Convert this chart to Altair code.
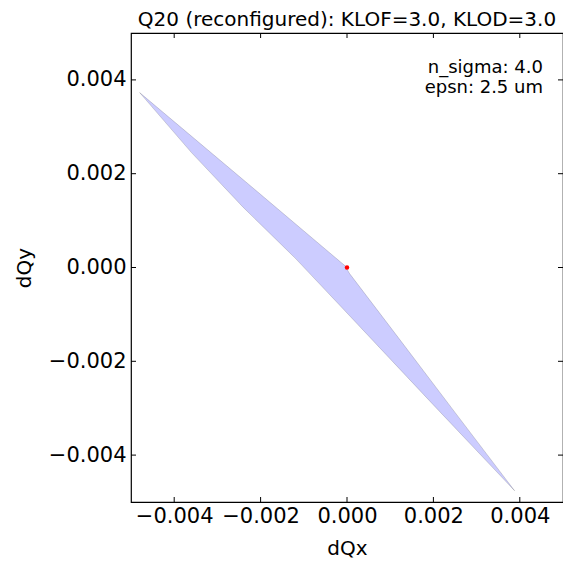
import altair as alt
import pandas as pd

chart_title = "Q20 (reconfigured): KLOF=3.0, KLOD=3.0"

# tune footprint polygon vertices, in drawing order
poly_dqx = [-0.00480, -0.00240, -0.00005, 0.00006, 0.00120, 0.00250, 0.00388,
            0.00200, 0.00000, -0.00120, -0.00240, -0.00360, -0.00480]
poly_dqy = [0.00373, 0.00187, 0.00004, -0.00013, -0.00151, -0.00309, -0.00476,
            -0.00293, -0.00097, 0.00020, 0.00128, 0.00245, 0.00373]

origin_dqx = [0.0]
origin_dqy = [0.0]

tick_values = [-0.004, -0.002, 0.0, 0.002, 0.004]
axis_domain = [-0.005, 0.005]
annotation_lines = ["n_sigma: 4.0", "epsn: 2.5 um"]

FONT = "DejaVu Sans"
W, H = 432, 469
TL = 5

poly = pd.DataFrame({"i": list(range(len(poly_dqx))), "dQx": poly_dqx, "dQy": poly_dqy})
origin = pd.DataFrame({"dQx": origin_dqx, "dQy": origin_dqy})
ticks = pd.DataFrame({"v": tick_values})

xs = alt.Scale(domain=axis_domain, nice=False, zero=False)
ys = alt.Scale(domain=axis_domain, nice=False, zero=False)

x_axis = alt.Axis(values=tick_values, format=".3f", grid=False, ticks=False, domain=False,
                  labelFont=FONT, labelFontSize=21, labelColor="black", labelPadding=3,
                  title="dQx", titleFont=FONT, titleFontSize=20, titleFontWeight="normal",
                  titleColor="black", titlePadding=12)
y_axis = alt.Axis(values=tick_values, format=".3f", grid=False, ticks=False, domain=False,
                  labelFont=FONT, labelFontSize=21, labelColor="black", labelPadding=5,
                  title="dQy", titleFont=FONT, titleFontSize=20, titleFontWeight="normal",
                  titleColor="black", titlePadding=14)

polygon = alt.Chart(poly).mark_line(
    fill="#0000ff", fillOpacity=0.2, stroke="#000000", strokeOpacity=0.15, strokeWidth=1
).encode(
    x=alt.X("dQx:Q", scale=xs, axis=x_axis),
    y=alt.Y("dQy:Q", scale=ys, axis=y_axis),
    order=alt.Order("i:Q"),
)

dot = alt.Chart(origin).mark_point(filled=True, color="red", size=20, opacity=1).encode(
    x=alt.X("dQx:Q", scale=xs),
    y=alt.Y("dQy:Q", scale=ys),
)

tick_base = alt.Chart(ticks)
xt_bottom = tick_base.mark_rule(color="black", strokeWidth=1).encode(
    x=alt.X("v:Q", scale=xs), y=alt.value(H), y2=alt.value(H - TL))
xt_top = tick_base.mark_rule(color="black", strokeWidth=1).encode(
    x=alt.X("v:Q", scale=xs), y=alt.value(0), y2=alt.value(TL))
yt_left = tick_base.mark_rule(color="black", strokeWidth=1).encode(
    y=alt.Y("v:Q", scale=ys), x=alt.value(0), x2=alt.value(TL))
yt_right = tick_base.mark_rule(color="black", strokeWidth=1).encode(
    y=alt.Y("v:Q", scale=ys), x=alt.value(W), x2=alt.value(W - TL))

annot = alt.Chart(origin).mark_text(
    text=annotation_lines, align="right", baseline="middle", font=FONT,
    fontSize=18, lineHeight=20, color="black"
).encode(x=alt.value(W - 20), y=alt.value(35))

chart = alt.layer(polygon, dot, xt_bottom, xt_top, yt_left, yt_right, annot).properties(
    width=W, height=H,
    title=alt.TitleParams(chart_title, font=FONT, fontSize=20, fontWeight="normal",
                          color="black", anchor="middle", offset=3),
    padding={"left": 123, "top": 25, "right": 0, "bottom": 58},
    autosize=alt.AutoSizeParams(type="none"),
    background="white",
).configure_view(stroke="black", strokeWidth=1.2)

chart.save("out.html", embed_options={"renderer": "svg", "actions": False})
